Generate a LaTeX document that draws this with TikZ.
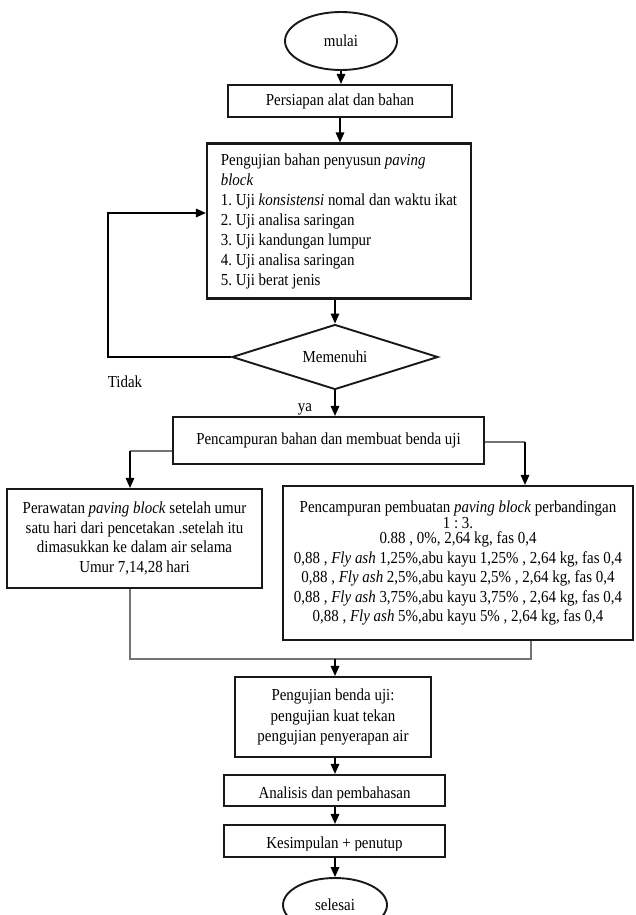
\documentclass[tikz,border=0pt]{standalone}
\usepackage{fontspec}
\setmainfont{Liberation Serif}[FakeStretch=0.89]
\usetikzlibrary{shapes.geometric,arrows.meta}
\begin{document}
\frenchspacing
\begin{tikzpicture}[x=1pt,y=-1pt,
  every node/.style={font=\fontsize{16.8}{19.5}\selectfont, text=black},
  boxnode/.style={draw=black!90, line width=2.1pt, rectangle, inner sep=0pt},
  term/.style={draw=black!90, line width=1.9pt, ellipse, inner sep=0pt},
  arr/.style={line width=1.5pt, draw=black, -{Triangle[length=10pt,width=8.5pt]}},
  grayline/.style={line width=1.2pt, draw=black!55},
]
\useasboundingbox (0,0) rectangle (635,915);
\fill[white] (0,0) rectangle (635,915);

% nodes
\node[term, minimum width=112pt, minimum height=58pt] (mulai) at (341,41) {mulai};
\node[boxnode, minimum width=224pt, minimum height=32pt] (prep) at (340,101) {Persiapan alat dan bahan};
\node[boxnode, minimum width=264pt, minimum height=155pt, align=left,
      font=\fontsize{16.8}{20}\selectfont] (uji) at (339,221)
  {Pengujian bahan penyusun \textit{paving}\\ \textit{block}\\ 1. Uji \textit{konsistensi} nomal dan waktu ikat\\ 2. Uji analisa saringan\\ 3. Uji kandungan lumpur\\ 4. Uji analisa saringan\\ 5. Uji berat jenis};
\node[diamond, aspect=3.2, draw=black!90, line width=1.9pt, minimum width=206pt, minimum height=65pt, inner sep=0pt] (mem) at (335,357) {Memenuhi};
\node (tidak) at (125,382) {Tidak};
\node (ya) at (305,409) {ya};
\node[boxnode, minimum width=311pt, minimum height=47pt] (pc) at (328.5,440.5) {Pencampuran bahan dan membuat benda uji};
\node[boxnode, minimum width=255pt, minimum height=99pt, align=center] (perw) at (134.5,538.5)
  {Perawatan \textit{paving block} setelah umur\\ satu hari dari pencetakan .setelah itu\\ dimasukkan ke dalam air selama\\ Umur 7,14,28 hari};
\node[boxnode, minimum width=350pt, minimum height=154pt, align=center] (mix) at (458,563)
  {Pencampuran pembuatan \textit{paving block} perbandingan\\[-4pt] 1 : 3.\\[-4pt] 0.88 , 0\%, 2,64 kg, fas 0,4\\ 0,88 , \textit{Fly ash} 1,25\%,abu kayu 1,25\% , 2,64 kg, fas 0,4\\ 0,88 , \textit{Fly ash} 2,5\%,abu kayu 2,5\% , 2,64 kg, fas 0,4\\ 0,88 , \textit{Fly ash} 3,75\%,abu kayu 3,75\% , 2,64 kg, fas 0,4\\ 0,88 , \textit{Fly ash} 5\%,abu kayu 5\% , 2,64 kg, fas 0,4};
\node[boxnode, minimum width=196pt, minimum height=80pt, align=center, font=\fontsize{16.8}{20.5}\selectfont] (tb) at (333,717)
  {Pengujian benda uji:\\ pengujian kuat tekan\\ pengujian penyerapan air};
\node[boxnode, minimum width=221pt, minimum height=31pt] (ana) at (334.5,790.5) {};
\begin{scope}
  \clip (224,776) rectangle (445,800);
  \node[anchor=base] (anat) at (334.5,798) {Analisis dan pembahasan};
\end{scope}
\node[boxnode, minimum width=221pt, minimum height=32pt] (kes) at (334.5,841) {};
\begin{scope}
  \clip (224,826) rectangle (445,850);
  \node[anchor=base] (kest) at (334.5,848.5) {Kesimpulan + penutup};
\end{scope}
\node[term, minimum width=104pt, minimum height=54pt] (sel) at (335,905) {selesai};

% connectors
\draw[arr] (mulai.south) -- (mulai.south |- prep.north);
\draw[arr] (prep.south) -- (prep.south |- uji.north);
\draw[arr] (mem.north |- uji.south) -- (mem.north);
\coordinate (fb) at (108,213);
\draw[arr] (mem.west) -| (fb) -- (uji.west |- fb);
\draw[arr] (mem.south) -- (mem.south |- pc.north);

\coordinate (lb) at (130,451);
\draw[grayline] (pc.west |- lb) -- (lb);
\draw[arr] (lb) -- (lb |- perw.north);
\coordinate (rb) at (525,442);
\draw[grayline] (pc.east |- rb) -- (rb);
\draw[arr] (rb) -- (rb |- mix.north);

\coordinate (m1) at (130,659);
\coordinate (m2) at (531,659);
\coordinate (m3) at (335,659);
\draw[grayline] (perw.south -| m1) -- (m1) -- (m2) -- (mix.south -| m2);
\draw[arr] (m3) -- (m3 |- tb.north);
\draw[arr] (tb.south -| m3) -- (ana.north -| m3);
\draw[arr] (ana.south -| m3) -- (kes.north -| m3);
\draw[arr] (kes.south -| m3) -- (sel.north);
\end{tikzpicture}
\end{document}
